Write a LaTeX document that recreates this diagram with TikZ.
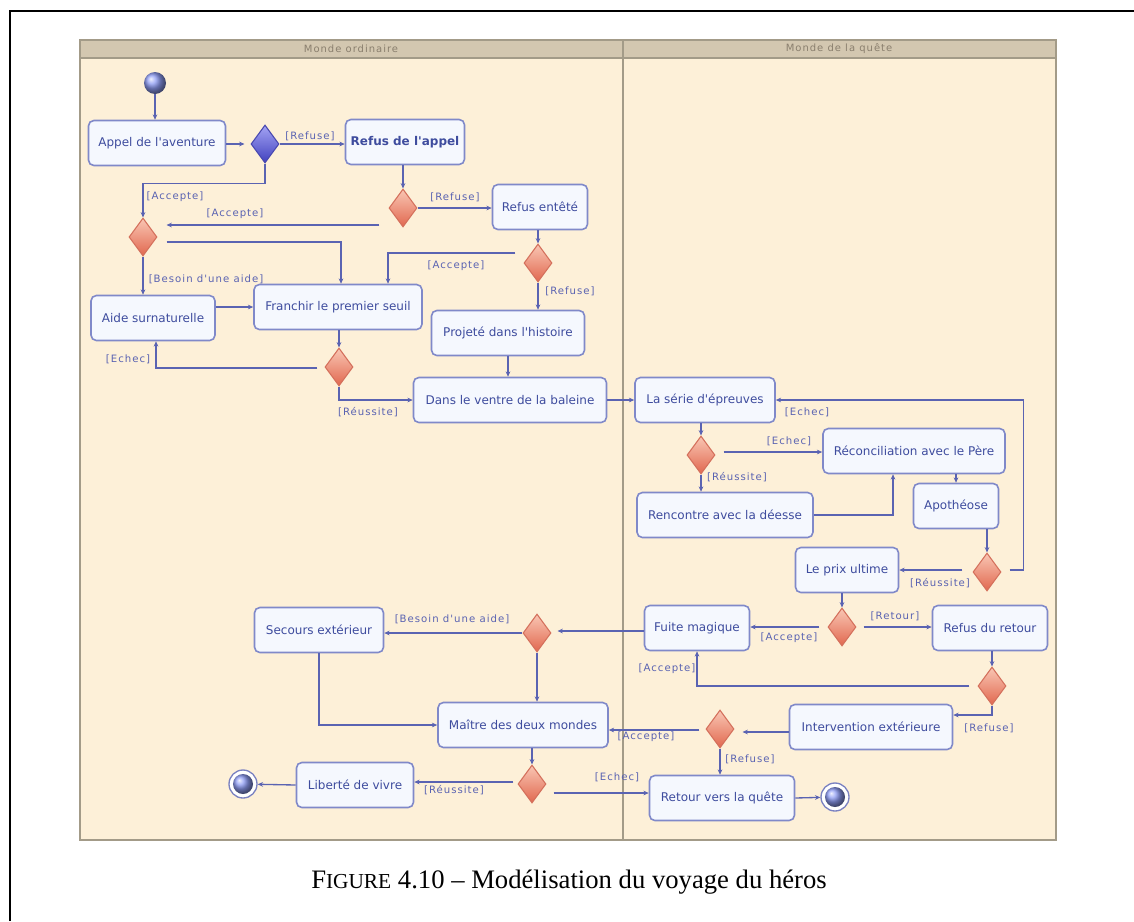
\documentclass[tikz,border=0pt]{standalone}
\usepackage{fontspec}
\usetikzlibrary{shapes.geometric,arrows.meta,calc}
\newfontfamily\boxfont{DejaVu Sans}
\newfontfamily\lblfont[LetterSpace=10]{DejaVu Sans}
\newfontfamily\capfont{Liberation Serif}
\definecolor{panelbg}{HTML}{FDF0D8}
\definecolor{headbg}{HTML}{D3C7B0}
\definecolor{panelln}{HTML}{A39B88}
\definecolor{headtx}{HTML}{8A7F6E}
\definecolor{boxfill}{HTML}{F5F8FE}
\definecolor{boxln}{HTML}{8089C9}
\definecolor{boxtx}{HTML}{3E4C9E}
\definecolor{conn}{HTML}{5A63B2}
\definecolor{rtop}{HTML}{F9C6B4}
\definecolor{rbot}{HTML}{E1684F}
\definecolor{rln}{HTML}{D4705C}
\definecolor{btop}{HTML}{A4A4F4}
\definecolor{bbot}{HTML}{4141BE}
\definecolor{bln}{HTML}{4848B0}
\definecolor{ballc}{HTML}{8E9CF4}
\begin{document}
\begin{tikzpicture}[x=0.75pt,y=-0.75pt,
 act/.style={draw=boxln,line width=1.2pt,rounded corners=4pt,fill=boxfill,text=boxtx,font=\boxfont\fontsize{9}{11}\selectfont,minimum height=33.75pt,inner sep=2pt},
 wpx/.style={minimum width=#1*0.75pt},
 rdia/.style={diamond,draw=rln,line width=0.8pt,top color=rtop,bottom color=rbot,minimum width=21pt,minimum height=28.5pt,inner sep=0pt},
 bdia/.style={diamond,draw=bln,line width=0.8pt,top color=btop,bottom color=bbot,minimum width=21pt,minimum height=28.5pt,inner sep=0pt},
 arr/.style={draw=conn,line width=1pt,-{Stealth[length=4pt,width=3.5pt]}},
 lbl/.style={font=\lblfont\fontsize{7.6}{9}\selectfont,text=conn,inner sep=0pt},
 hdr/.style={font=\lblfont\fontsize{7.5}{9}\selectfont,text=headtx,inner sep=0pt},
 ball/.style={circle,ball color=ballc,inner sep=0pt},
 endc/.style={circle,draw=conn!80,line width=1pt,fill=white,minimum size=21pt,inner sep=0pt},
]
\useasboundingbox (0,0) rectangle (1134,921);
% frame
\draw[line width=1.1pt] (10,921) -- (10,11) -- (1134,11);
% panel
\fill[panelbg] (80,40) rectangle (1056,840);
\fill[headbg] (80,40) rectangle (1056,58);
\draw[panelln,line width=1pt] (80,40) rectangle (1056,840);
\draw[panelln,line width=0.8pt] (80,58) -- (1056,58);
\draw[panelln,line width=1pt] (623,40) -- (623,840);
\node[hdr] (h1) at (351,49) {Monde ordinaire};
\node[hdr] (h2) at (839,49) {Monde de la quête};

% nodes
\node[ball,minimum size=16.5pt] (start) at (155,83) {};
\node[act,wpx=137] (appel) at (157,143) {Appel de l'aventure};
\node[bdia] (d1) at (265,144) {};
\node[act,wpx=119,font=\boxfont\bfseries\fontsize{9}{11}\selectfont] (refus) at (405,142) {Refus de l'appel};
\node[rdia] (d2) at (403,208) {};
\node[act,wpx=95] (entete) at (540,207) {Refus entêté};
\node[rdia] (d3) at (143,237) {};
\node[rdia] (d4) at (538,263) {};
\node[act,wpx=124] (aide) at (153,318) {Aide surnaturelle};
\node[act,wpx=168] (franchir) at (338,307) {Franchir le premier seuil};
\node[act,wpx=153] (projete) at (508,333) {Projeté dans l'histoire};
\node[rdia] (d5) at (339,367) {};
\node[act,wpx=193] (dans) at (510,400) {Dans le ventre de la baleine};
\node[act,wpx=140] (serie) at (705,400) {La série d'épreuves};
\node[rdia] (d6) at (701,455) {};
\node[act,wpx=182] (reconc) at (914,451) {Réconciliation avec le Père};
\node[act,wpx=176] (rencontre) at (725,515) {Rencontre avec la déesse};
\node[act,wpx=85] (apo) at (956,506) {Apothéose};
\node[rdia] (d7) at (987,572) {};
\node[act,wpx=103] (prix) at (847,570) {Le prix ultime};
\node[rdia] (d8) at (842,627) {};
\node[act,wpx=105] (fuite) at (697,628) {Fuite magique};
\node[act,wpx=115] (refret) at (990,628) {Refus du retour};
\node[rdia] (d9) at (992,686) {};
\node[act,wpx=163] (interv) at (871,727) {Intervention extérieure};
\node[rdia] (d10) at (720,729) {};
\node[act,wpx=145] (retour) at (722,798) {Retour vers la quête};
\node[endc] (fin1) at (835,797) {};
\node[ball,minimum size=15pt] (fin1i) at (fin1) {};
\node[act,wpx=129] (secours) at (319,630) {Secours extérieur};
\node[rdia] (d11) at (537,633) {};
\node[act,wpx=170] (maitre) at (523,725) {Maître des deux mondes};
\node[rdia] (d12) at (532,784) {};
\node[act,wpx=117] (liberte) at (355,785) {Liberté de vivre};
\node[endc] (fin0) at (243,784) {};
\node[ball,minimum size=15pt] (fin0i) at (fin0) {};

% connectors
\draw[arr] (start) -- (start |- appel.north);
\draw[arr] (appel.east |- d1.west) -- ($(d1.west)+(-6,0)$);
\draw[arr] (d1.east) -- (refus.west |- d1.east);
\draw[arr] (d1.south) -- ++(0,20) -| (d3.north);
\draw[arr] (d2.north |- refus.south) -- (d2.north);
\draw[arr] (d2.east) -- (entete.west |- d2.east);
\draw[arr] ($(d2.west)+(-9,17)$) -- ($(d3.east)+(9,-12)$);
\draw[arr] ($(d3.east)+(9,5)$) -| ($(franchir.north)+(3,0)$);
\draw[arr] (d3.south) -- (d3.south |- aide.north);
\draw[arr] (d4.north |- entete.south) -- (d4.north);
\draw[arr] ($(d4.west)+(-8,-10)$) -| ($(franchir.north)+(50,0)$);
\draw[arr] (d4.south) -- (d4.south |- projete.north);
\draw[arr] (aide.east |- franchir.west) -- (franchir.west);
\draw[arr] (d5.north |- franchir.south) -- (d5.north);
\draw[arr] ($(d5.west)+(-7,1)$) -| ($(aide.south)+(3,0)$);
\draw[arr] (d5.south) |- (dans.west);
\draw[arr] (projete.south) -- (projete.south |- dans.north);
\draw[arr] (dans.east) -- (serie.west);
\draw[arr] (d6.north |- serie.south) -- (d6.north);
\coordinate (c19) at ($(d6.east)+(8,-3)$);
\draw[arr] (c19) -- (c19 -| reconc.west);
\draw[arr] (d6.south) -- (d6.south |- rencontre.north);
\draw[arr] (rencontre.east) -| ($(reconc.south)+(-21,0)$);
\draw[arr] (apo.north |- reconc.south) -- (apo.north);
\draw[arr] (d7.north |- apo.south) -- (d7.north);
\draw[arr] ($(d7.east)+(8,-2)$) -- ++(14,0) |- (serie.east);
\coordinate (c25) at ($(d7.west)+(-10,-2)$);
\draw[arr] (c25) -- (c25 -| prix.east);
\draw[arr] (d8.north |- prix.south) -- (d8.north);
\draw[arr] ($(d8.west)+(-8,0)$) -- (fuite.east |- d8.west);
\draw[arr] ($(d8.east)+(7,0)$) -- (refret.west |- d8.east);
\draw[arr] (d9.north |- refret.south) -- (d9.north);
\draw[arr] ($(d9.west)+(-8,0)$) -| (fuite.south);
\draw[arr] (d9.south) |- ($(interv.east)+(0,-12)$);
\draw[arr] ($(interv.west)+(0,5)$) -- ($(d10.east)+(8,3)$);
\coordinate (c33) at ($(d10.west)+(-6,1)$);
\draw[arr] (c33) -- (c33 -| maitre.east);
\draw[arr] (d10.south) -- (d10.south |- retour.north);
\draw[arr] (retour.east) -- (fin1);
\draw[arr] ($(fuite.west)+(0,3)$) -- ($(d11.east)+(6,-2)$);
\draw[arr] (d11.west) -- (secours.east |- d11.west);
\draw[arr] (d11.south) -- (d11.south |- maitre.north);
\draw[arr] (secours.south) |- (maitre.west);
\draw[arr] (d12.north |- maitre.south) -- (d12.north);
\coordinate (c41) at ($(d12.west)+(-4,-2)$);
\draw[arr] (c41) -- (c41 -| liberte.east);
\draw[arr] (liberte.west) -- (fin0);
\coordinate (c43) at ($(d12.east)+(7,9)$);
\draw[arr] (c43) -- (c43 -| retour.west);

% labels
\node[lbl] (l1) at (310,136) {[Refuse]};
\node[lbl] (l2) at (175,197) {[Accepte]};
\node[lbl] (l3) at (455,197) {[Refuse]};
\node[lbl] (l4) at (235,214) {[Accepte]};
\node[lbl] (l5) at (206,279) {[Besoin d'une aide]};
\node[lbl] (l6) at (456,266) {[Accepte]};
\node[lbl] (l7) at (570,291) {[Refuse]};
\node[lbl] (l8) at (128,359) {[Echec]};
\node[lbl] (l9) at (368,412) {[Réussite]};
\node[lbl] (l10) at (789,441) {[Echec]};
\node[lbl] (l11) at (737,477) {[Réussite]};
\node[lbl] (l12) at (807,412) {[Echec]};
\node[lbl] (l13) at (940,583) {[Réussite]};
\node[lbl] (l14) at (789,638) {[Accepte]};
\node[lbl] (l15) at (895,616) {[Retour]};
\node[lbl] (l16) at (667,669) {[Accepte]};
\node[lbl] (l17) at (989,728) {[Refuse]};
\node[lbl] (l18) at (646,737) {[Accepte]};
\node[lbl] (l19) at (750,759) {[Refuse]};
\node[lbl] (l20) at (452,619) {[Besoin d'une aide]};
\node[lbl] (l21) at (454,790) {[Réussite]};
\node[lbl] (l22) at (617,777) {[Echec]};

% caption
\node[font=\capfont\fontsize{20}{24}\selectfont,inner sep=0pt] (cap) at (569,882) {F{\fontsize{16}{20}\selectfont IGURE} 4.10 – Modélisation du voyage du héros};
\end{tikzpicture}
\end{document}
